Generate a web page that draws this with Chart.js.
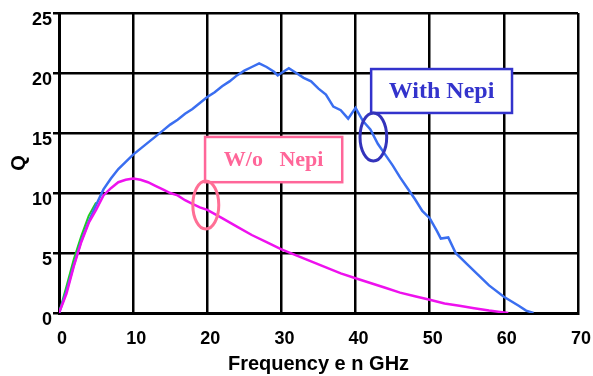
<!DOCTYPE html>
<html>
<head>
<meta charset="utf-8">
<script src="https://cdn.jsdelivr.net/npm/chart.js@4/dist/chart.umd.min.js"></script>
<style>
  html, body { margin: 0; padding: 0; background: #fff; }
  #wrap { width: 593px; height: 376px; }
</style>
</head>
<body>
<div id="wrap"><canvas id="qChart" width="593" height="376"></canvas></div>
<script>
// Frequency (GHz) / Q
const withNepiFreq = [0, 1, 2, 3, 4, 5, 6, 7, 8, 9, 10, 11, 12, 13, 14, 15, 16, 17, 18, 19, 20, 21, 22, 23, 24, 25, 26, 27, 28, 29, 29.5, 30, 31, 32, 33, 34, 35, 36, 37, 38, 39, 40, 41, 42, 43, 44, 45, 46, 47, 48, 49, 50, 51, 51.5, 52.5, 53.5, 55, 56.5, 58, 60, 62, 63, 64];
const withNepiQ    = [0, 1.8, 4.0, 6.0, 7.6, 9.0, 10.3, 11.2, 12.0, 12.6, 13.2, 13.7, 14.2, 14.7, 15.2, 15.7, 16.1, 16.6, 17.0, 17.5, 18.0, 18.4, 18.9, 19.3, 19.8, 20.2, 20.5, 20.8, 20.5, 20.1, 19.8, 20.0, 20.4, 20.0, 19.6, 19.3, 18.7, 18.2, 17.2, 16.9, 16.2, 17.1, 16.0, 15.3, 14.1, 13.2, 12.3, 11.3, 10.4, 9.5, 8.5, 7.9, 6.8, 6.2, 6.3, 5.0, 4.1, 3.2, 2.3, 1.35, 0.6, 0.2, 0];

const withoutNepiFreq = [0, 1, 2, 3, 4, 5, 6, 7, 8, 9, 10, 11, 12, 13, 14, 15, 16, 17, 18, 19, 20, 22, 24, 26, 28, 30, 32, 34, 36, 38, 40, 42, 44, 46, 48, 50, 52, 54, 56, 58, 60, 60.6];
const withoutNepiQ    = [0, 1.6, 3.9, 5.9, 7.5, 8.6, 9.8, 10.4, 10.9, 11.1, 11.2, 11.1, 10.9, 10.6, 10.3, 10.0, 9.8, 9.4, 9.1, 8.8, 8.6, 7.9, 7.2, 6.5, 5.9, 5.3, 4.8, 4.3, 3.8, 3.3, 2.9, 2.5, 2.1, 1.7, 1.4, 1.1, 0.8, 0.6, 0.4, 0.2, 0.05, 0];

const refFreq = [0, 1, 2, 3, 4, 5];
const refQ    = [0, 2.2, 4.5, 6.4, 8.1, 9.2];

const xTicks = [0, 10, 20, 30, 40, 50, 60, 70];
const yTicks = [0, 5, 10, 15, 20, 25];

const toPoints = (xs, ys) => xs.map((x, i) => ({ x: x, y: ys[i] }));

// boxed labels and circled marks, placed in data units
const notes = [
  { text: 'W/o   Nepi', color: '#ff6699', box: [19.7, 14.67, 38.2, 10.9], font: 'bold 22px "Liberation Serif", "Times New Roman", serif',
    ring: { x: 19.8, y: 9.0, rx: 1.75, ry: 2.0 }, ringColor: '#ff6f95' },
  { text: 'With Nepi', color: '#3333cc', box: [42.1, 20.33, 61.1, 16.67], font: 'bold 24px "Liberation Serif", "Times New Roman", serif',
    ring: { x: 42.4, y: 14.67, rx: 1.8, ry: 2.0 }, ringColor: '#3333bb' }
];

const notesPlugin = {
  id: 'notes',
  afterDatasetsDraw(chart) {
    const { ctx, scales: { x, y } } = chart;
    ctx.save();
    notes.forEach(n => {
      const x1 = x.getPixelForValue(n.box[0]), y1 = y.getPixelForValue(n.box[1]);
      const x2 = x.getPixelForValue(n.box[2]), y2 = y.getPixelForValue(n.box[3]);
      ctx.fillStyle = '#fff';
      ctx.fillRect(x1, y1, x2 - x1, y2 - y1);
      ctx.strokeStyle = n.color;
      ctx.lineWidth = 2.5;
      ctx.strokeRect(x1, y1, x2 - x1, y2 - y1);
      ctx.fillStyle = n.color;
      ctx.font = n.font;
      ctx.textAlign = 'center';
      ctx.textBaseline = 'middle';
      ctx.fillText(n.text, (x1 + x2) / 2, (y1 + y2) / 2 + 1);

      const cx = x.getPixelForValue(n.ring.x), cy = y.getPixelForValue(n.ring.y);
      const rx = Math.abs(x.getPixelForValue(n.ring.x + n.ring.rx) - cx);
      const ry = Math.abs(y.getPixelForValue(n.ring.y + n.ring.ry) - cy);
      ctx.strokeStyle = n.ringColor;
      ctx.lineWidth = 3;
      ctx.beginPath();
      ctx.ellipse(cx, cy, rx, ry, 0, 0, Math.PI * 2);
      ctx.stroke();
    });
    ctx.restore();
  }
};

const bgPlugin = {
  id: 'bg',
  beforeDraw(chart) {
    const ctx = chart.ctx;
    ctx.save();
    ctx.fillStyle = '#fff';
    ctx.fillRect(0, 0, chart.width, chart.height);
    ctx.restore();
  }
};

const tickFont = { family: 'Arial, "Liberation Sans", sans-serif', size: 18, weight: 'bold' };

new Chart(document.getElementById('qChart').getContext('2d'), {
  type: 'line',
  data: {
    datasets: [
      { label: 'W/o Nepi', data: toPoints(withoutNepiFreq, withoutNepiQ), borderColor: '#ee11ee', borderWidth: 2.5, pointRadius: 0, tension: 0, order: 1 },
      { label: 'With Nepi', data: toPoints(withNepiFreq, withNepiQ), borderColor: '#3a6ef0', borderWidth: 2.5, pointRadius: 0, tension: 0, order: 2 },
      { label: 'ref', data: toPoints(refFreq, refQ), borderColor: '#22cc22', borderWidth: 2, pointRadius: 0, tension: 0, order: 3 }
    ]
  },
  options: {
    responsive: false,
    animation: false,
    layout: { padding: { top: 13, right: 15, left: 0, bottom: 0 } },
    plugins: { legend: { display: false }, tooltip: { enabled: false } },
    scales: {
      x: {
        type: 'linear',
        min: 0,
        max: 70,
        afterBuildTicks: (scale) => { scale.ticks = xTicks.map(v => ({ value: v })); },
        afterFit: (scale) => { scale.height = 63; scale.paddingLeft = 0; scale.paddingRight = 0; },
        grid: { color: '#000', lineWidth: 2.5, drawTicks: false },
        border: { color: '#000', width: 3 },
        ticks: { color: '#000', font: tickFont, padding: 15, maxRotation: 0, labelOffset: 3 },
        title: { display: true, text: 'Frequency e n GHz', color: '#000', padding: { top: 0, bottom: 0 },
                 font: { family: 'Arial, "Liberation Sans", sans-serif', size: 20, weight: 'bold' } }
      },
      y: {
        min: 0,
        max: 25,
        afterBuildTicks: (scale) => { scale.ticks = yTicks.map(v => ({ value: v })); },
        afterFit: (scale) => { scale.width = 59; scale.paddingTop = 0; scale.paddingBottom = 0; },
        grid: { color: '#000', lineWidth: 2.5, tickLength: 6 },
        border: { color: '#000', width: 3 },
        ticks: { color: '#000', font: tickFont, padding: 1, labelOffset: 7 },
        title: { display: true, text: 'Q', color: '#000', padding: { top: 7, bottom: 0 },
                 font: { family: 'Arial, "Liberation Sans", sans-serif', size: 20, weight: 'bold' } }
      }
    }
  },
  plugins: [bgPlugin, notesPlugin]
});
</script>
</body>
</html>
